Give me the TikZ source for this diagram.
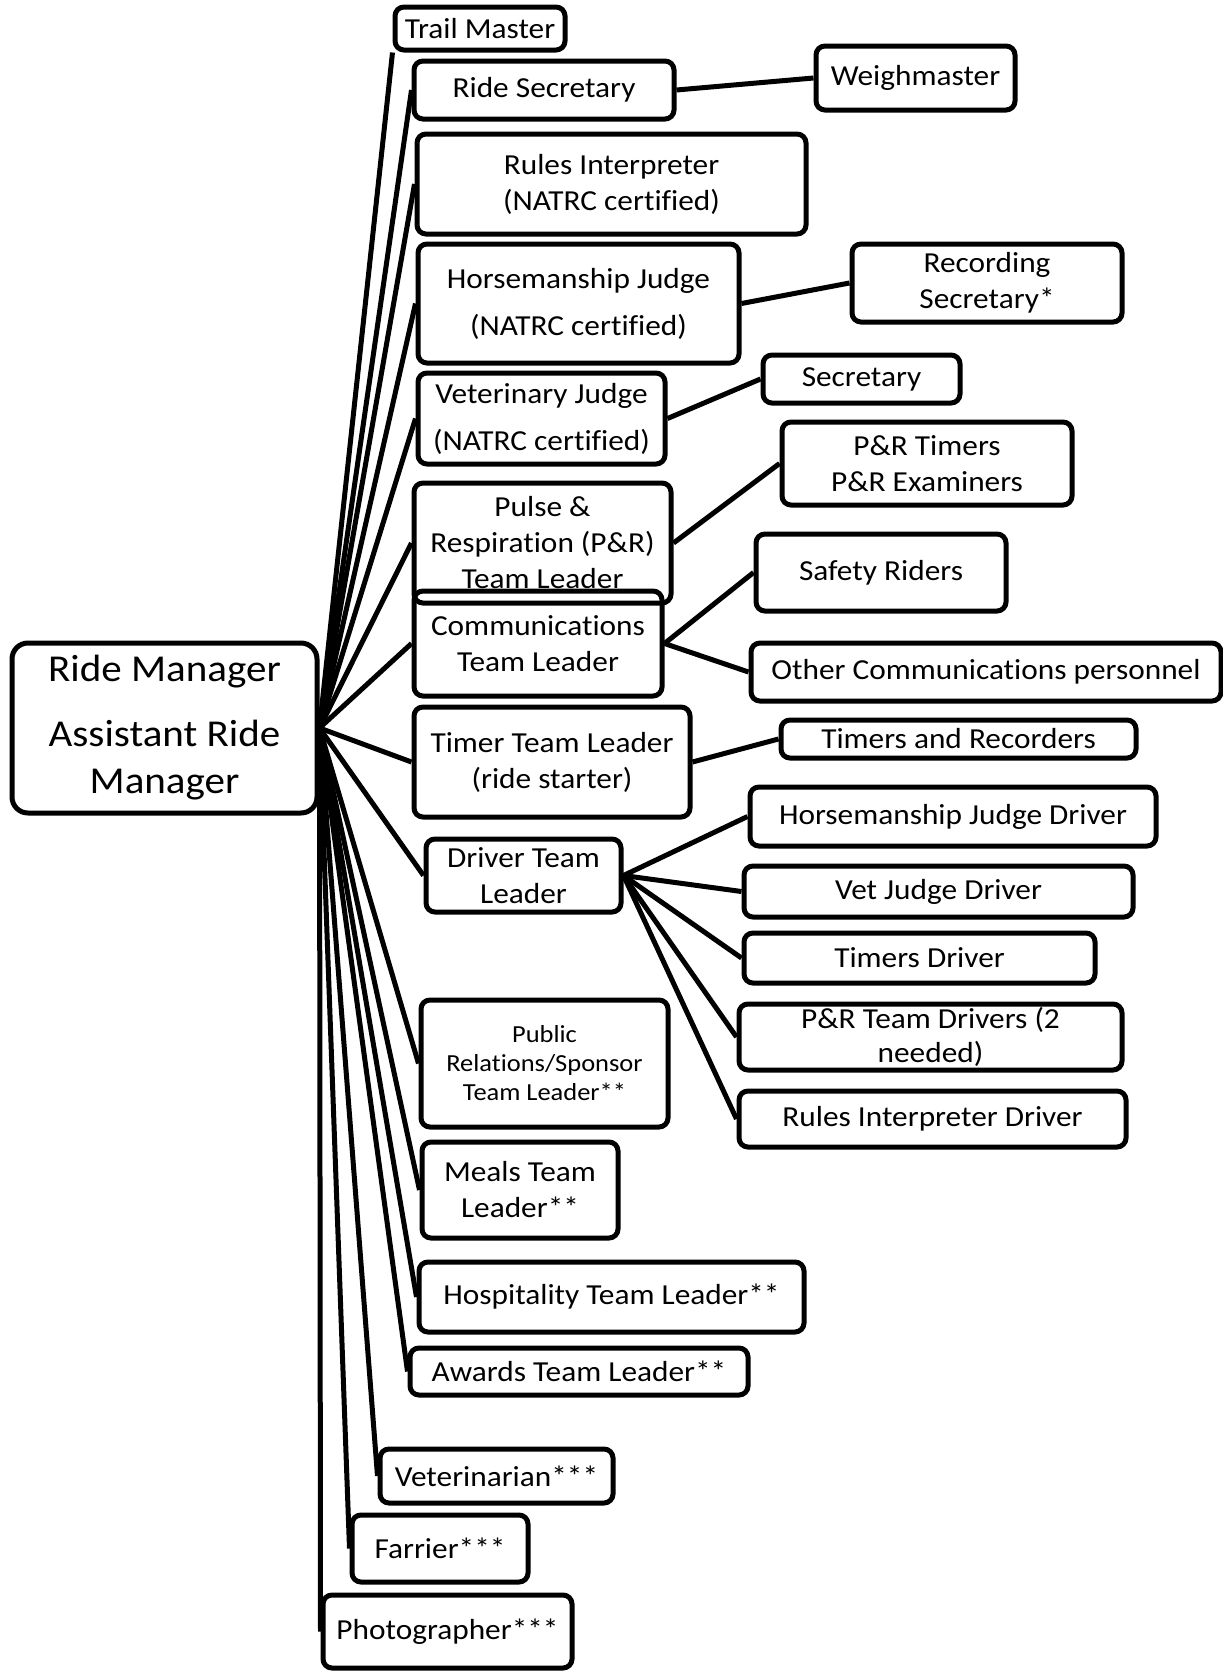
\documentclass[tikz,border=0pt]{standalone}
\usepackage{fontspec}
\setmainfont{Carlito}[FakeStretch=1.08, Ligatures=NoCommon]

\begin{document}
\begin{tikzpicture}[x=1pt,y=-1pt,
  role/.style={draw, line width=5pt, rounded corners=9pt, align=center, inner sep=0pt, font=\fontsize{29}{36}\selectfont},
  link/.style={line width=5pt}]
\useasboundingbox (0,0) rectangle (1223,1671);

\node [role, rounded corners=16pt, minimum width=305pt, minimum height=170pt, font=\fontsize{38}{47}\selectfont] (rm) at (164.5,728) {Ride Manager\\[18pt]Assistant Ride\\Manager};

\node [role, minimum width=170pt, minimum height=43pt] (tm) at (480,28.5) {Trail Master};
\node [role, minimum width=260pt, minimum height=58pt] (ridesec) at (544,90) {Ride Secretary};
\node [role, minimum width=199pt, minimum height=64pt] (weigh) at (915.5,78) {Weighmaster};
\node [role, minimum width=389pt, minimum height=100pt] (rules) at (611.5,184) {Rules Interpreter\\(NATRC certified)};
\node [role, minimum width=321pt, minimum height=119pt] (hjudge) at (578.5,303.5) {Horsemanship Judge\\[11pt](NATRC certified)};
\node [role, minimum width=270pt, minimum height=78pt] (recsec) at (987,283) {Recording\\Secretary*};
\node [role, minimum width=247pt, minimum height=91pt] (vjudge) at (541.5,418.5) {Veterinary Judge\\[11pt](NATRC certified)};
\node [role, minimum width=197pt, minimum height=48pt] (vsec) at (861.5,379) {Secretary};
\node [role, minimum width=257pt, minimum height=120pt] (pulse) at (542.5,543) {Pulse \&\\Respiration (P\&R)\\Team Leader};
\node [role, minimum width=290pt, minimum height=83pt] (prtimers) at (927,463.5) {P\&R Timers\\P\&R Examiners};
\node [role, minimum width=248pt, minimum height=105pt] (comm) at (538,643.5) {Communications\\Team Leader};
\node [role, minimum width=250pt, minimum height=77pt] (safety) at (881,572.5) {Safety Riders};
\node [role, minimum width=470pt, minimum height=58pt] (othercomm) at (986,672) {Other Communications personnel};
\node [role, minimum width=276pt, minimum height=110pt] (timertl) at (552,762) {Timer Team Leader\\(ride starter)};
\node [role, minimum width=355pt, minimum height=38pt] (timrec) at (958.5,739) {Timers and Recorders};
\node [role, minimum width=195pt, minimum height=73pt] (drivertl) at (523.5,875.5) {Driver Team\\Leader};
\node [role, minimum width=406pt, minimum height=59pt] (hjdriver) at (953,816.5) {Horsemanship Judge Driver};
\node [role, minimum width=389pt, minimum height=51pt] (vjdriver) at (938.5,891.5) {Vet Judge Driver};
\node [role, minimum width=351pt, minimum height=50pt] (tdriver) at (919.5,958) {Timers Driver};
\node [role, minimum width=383pt, minimum height=66pt, font=\fontsize{29}{34}\selectfont] (prdriver) at (930.5,1037) {P\&R Team Drivers (2\\needed)};
\node [role, minimum width=387pt, minimum height=56pt] (ridriver) at (932.5,1119) {Rules Interpreter Driver};
\node [role, minimum width=247pt, minimum height=127pt, font=\fontsize{24.5}{29}\selectfont] (pr) at (544.5,1063.5) {Public\\Relations/Sponsor\\Team Leader**};
\node [role, minimum width=196pt, minimum height=96pt] (meals) at (520,1190) {Meals Team\\Leader**};
\node [role, minimum width=385pt, minimum height=70pt] (hosp) at (611.5,1297) {Hospitality Team Leader**};
\node [role, minimum width=338pt, minimum height=47pt] (awards) at (579,1371.5) {Awards Team Leader**};
\node [role, minimum width=233pt, minimum height=54pt] (vet) at (496.5,1476) {Veterinarian***};
\node [role, minimum width=176pt, minimum height=67pt] (farrier) at (440,1548.5) {Farrier***};
\node [role, minimum width=249pt, minimum height=73pt] (photo) at (447.5,1631.5) {Photographer***};

\draw [link] (rm.east) -- (tm.south west);
\draw [link] (rm.east) -- (ridesec.west);
\draw [link] (rm.east) -- (rules.west);
\draw [link] (rm.east) -- (hjudge.west);
\draw [link] (rm.east) -- (vjudge.west);
\draw [link] (rm.east) -- (pulse.west);
\draw [link] (rm.east) -- (comm.west);
\draw [link] (rm.east) -- (timertl.west);
\draw [link] (rm.east) -- (drivertl.west);
\draw [link] (rm.east) -- (pr.west);
\draw [link] (rm.east) -- (meals.west);
\draw [link] (rm.east) -- (hosp.west);
\draw [link] (rm.east) -- (awards.west);
\draw [link] (rm.east) -- (vet.west);
\draw [link] (rm.east) -- (farrier.west);
\draw [link] (rm.east) -- (photo.west);

\draw [link] (ridesec.east) -- (weigh.west);
\draw [link] (hjudge.east) -- (recsec.west);
\draw [link] (vjudge.east) -- (vsec.west);
\draw [link] (pulse.east) -- (prtimers.west);
\draw [link] (comm.east) -- (safety.west);
\draw [link] (comm.east) -- (othercomm.west);
\draw [link] (timertl.east) -- (timrec.west);

\draw [link] (drivertl.east) -- (hjdriver.west);
\draw [link] (drivertl.east) -- (vjdriver.west);
\draw [link] (drivertl.east) -- (tdriver.west);
\draw [link] (drivertl.east) -- (prdriver.west);
\draw [link] (drivertl.east) -- (ridriver.west);

\end{tikzpicture}
\end{document}
